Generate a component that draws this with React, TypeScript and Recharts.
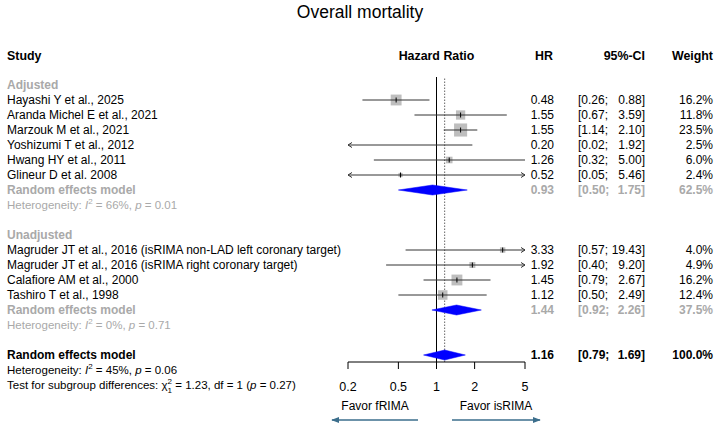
import React from 'react';
import { ScatterChart, Scatter, XAxis, YAxis, ReferenceLine } from 'recharts';

const FONT = '"Liberation Sans", Arial, Helvetica, sans-serif';
const GREY_TEXT = '#a9a9a9';
const CI_COLOR = '#333333';
const SQUARE_COLOR = '#bebebe';
const DIAMOND_COLOR = '#0000ff';
const FAVOR_COLOR = '#3b6e8c';

// ---- Adjusted studies ----
const adjustedStudies = [
  'Hayashi Y et al., 2025',
  'Aranda Michel E et al., 2021',
  'Marzouk M et al., 2021',
  'Yoshizumi T et al., 2012',
  'Hwang HY et al., 2011',
  'Glineur D et al. 2008',
];
const adjustedHR = [0.48, 1.55, 1.55, 0.2, 1.26, 0.52];
const adjustedLower = [0.26, 0.67, 1.14, 0.02, 0.32, 0.05];
const adjustedUpper = [0.88, 3.59, 2.1, 1.92, 5.0, 5.46];
const adjustedWeight = [16.2, 11.8, 23.5, 2.5, 6.0, 2.4];

// ---- Unadjusted studies ----
const unadjustedStudies = [
  'Magruder JT et al., 2016 (isRIMA non-LAD left coronary target)',
  'Magruder JT et al., 2016 (isRIMA right coronary target)',
  'Calafiore AM et al., 2000',
  'Tashiro T et al., 1998',
];
const unadjustedHR = [3.33, 1.92, 1.45, 1.12];
const unadjustedLower = [0.57, 0.4, 0.79, 0.5];
const unadjustedUpper = [19.43, 9.2, 2.67, 2.49];
const unadjustedWeight = [4.0, 4.9, 16.2, 12.4];

// ---- Pooled random effects: adjusted, unadjusted, overall ----
const pooledHR = [0.93, 1.44, 1.16];
const pooledLower = [0.5, 0.92, 0.79];
const pooledUpper = [1.75, 2.26, 1.69];
const pooledWeight = [62.5, 37.5, 100.0];
const pooledI2 = [66, 0, 45];
const pooledP = ['0.01', '0.71', '0.06'];

// Test for subgroup differences
const subgroupChi2 = '1.23';
const subgroupDf = 1;
const subgroupP = '0.27';

// ---- Axis ----
const axisTicks = [0.2, 0.5, 1, 2, 5];
const AXIS_MIN = 0.2;
const AXIS_MAX = 5;

// Row layout (row index runs top to bottom)
const PLOT_TOP = 77;
const PLOT_BOTTOM = 362;
const PLOT_LEFT = 348;
const PLOT_RIGHT = 525;
const ROW_MIN = -8 / 15;
const ROW_MAX = 277 / 15;
const rowY = (r: number) =>
  PLOT_TOP + ((r - ROW_MIN) / (ROW_MAX - ROW_MIN)) * (PLOT_BOTTOM - PLOT_TOP);

const ROW_ADJ_HEAD = 0;
const ROW_ADJ_FIRST = 1;
const ROW_ADJ_POOLED = 7;
const ROW_UNADJ_HEAD = 10;
const ROW_UNADJ_FIRST = 11;
const ROW_UNADJ_POOLED = 15;
const ROW_OVERALL = 18;
const pooledRows = [ROW_ADJ_POOLED, ROW_UNADJ_POOLED, ROW_OVERALL];

type Study = { label: string; hr: number; lo: number; hi: number; w: number; row: number };

const studies: Study[] = [
  ...adjustedStudies.map((label, i) => ({
    label,
    hr: adjustedHR[i],
    lo: adjustedLower[i],
    hi: adjustedUpper[i],
    w: adjustedWeight[i],
    row: ROW_ADJ_FIRST + i,
  })),
  ...unadjustedStudies.map((label, i) => ({
    label,
    hr: unadjustedHR[i],
    lo: unadjustedLower[i],
    hi: unadjustedUpper[i],
    w: unadjustedWeight[i],
    row: ROW_UNADJ_FIRST + i,
  })),
];

// Square + point estimate data (estimates sitting on the axis limits are not boxed)
const pointData = studies
  .filter((s) => s.hr > AXIS_MIN && s.hr < AXIS_MAX)
  .map((s) => ({ x: s.hr, y: s.row, w: s.w }));

// Confidence interval end points (pairs), clipped to the axis range with arrow flags
const ciData = studies.flatMap((s) => [
  { x: Math.max(s.lo, AXIS_MIN), y: s.row, arrow: s.lo < AXIS_MIN ? 'left' : '' },
  { x: Math.min(s.hi, AXIS_MAX), y: s.row, arrow: s.hi > AXIS_MAX ? 'right' : '' },
]);

// Diamond vertices (groups of four) for the pooled estimates
const DIAMOND_HALF = 1 / 3;
const diamondData = pooledHR.flatMap((hr, i) => [
  { x: pooledLower[i], y: pooledRows[i] },
  { x: hr, y: pooledRows[i] - DIAMOND_HALF },
  { x: pooledUpper[i], y: pooledRows[i] },
  { x: hr, y: pooledRows[i] + DIAMOND_HALF },
]);

const fmt2 = (v: number) => v.toFixed(2);
const fmtW = (v: number) => `${v.toFixed(1)}%`;

const WeightSquare = (props: any) => {
  const { cx, cy, payload } = props;
  const s = 2.7 * Math.sqrt(payload.w);
  return <rect x={cx - s / 2} y={cy - s / 2} width={s} height={s} fill={SQUARE_COLOR} />;
};

const PointTick = (props: any) => {
  const { cx, cy } = props;
  return <line x1={cx} x2={cx} y1={cy - 2.5} y2={cy + 2.5} stroke="#000" strokeWidth={1} />;
};

const CiEnd = (props: any) => {
  const { cx, cy, payload } = props;
  if (!payload.arrow) return <g />;
  const d = payload.arrow === 'left' ? 1 : -1;
  return (
    <path
      d={`M${cx + 4 * d},${cy - 2.5} L${cx},${cy} L${cx + 4 * d},${cy + 2.5}`}
      fill="none"
      stroke={CI_COLOR}
      strokeWidth={1}
    />
  );
};

const Empty = () => <g />;

const ciSegments = (props: any) => {
  const pts = props.points || [];
  const segs: React.ReactElement[] = [];
  for (let k = 0; k + 1 < pts.length; k += 2) {
    segs.push(
      <line
        key={k}
        x1={pts[k].x}
        y1={pts[k].y}
        x2={pts[k + 1].x}
        y2={pts[k + 1].y}
        stroke={CI_COLOR}
        strokeWidth={1}
      />
    );
  }
  return <g>{segs}</g>;
};

const diamonds = (props: any) => {
  const pts = props.points || [];
  const polys: React.ReactElement[] = [];
  for (let k = 0; k + 3 < pts.length; k += 4) {
    const d = [0, 1, 2, 3].map((j) => `${pts[k + j].x},${pts[k + j].y}`).join(' ');
    polys.push(<polygon key={k} points={d} fill={DIAMOND_COLOR} stroke={DIAMOND_COLOR} strokeWidth={0.5} />);
  }
  return <g>{polys}</g>;
};

const TEXT_SIZE = 12;
const HEAD_SIZE = 12.4;
const SMALL_SIZE = 11.5;
const baseline = (r: number, size: number) => rowY(r) + size * 0.358;

const COL_LABEL = 7;
const COL_HR = 554;
const COL_CI_LEFT = 578;
const COL_CI_RIGHT = 645;
const COL_WEIGHT = 713;

const ValueCells = ({ row, hr, lo, hi, w, color, bold }: any) => {
  const y = baseline(row, TEXT_SIZE);
  const common = { fontSize: TEXT_SIZE, fill: color, fontWeight: bold ? 'bold' : 'normal', y };
  return (
    <g>
      <text {...common} x={COL_HR} textAnchor="end">{fmt2(hr)}</text>
      <text {...common} x={COL_CI_LEFT}>{`[${fmt2(lo)};`}</text>
      <text {...common} x={COL_CI_RIGHT} textAnchor="end">{`${fmt2(hi)}]`}</text>
      <text {...common} x={COL_WEIGHT} textAnchor="end">{fmtW(w)}</text>
    </g>
  );
};

const Heterogeneity = ({ row, i2, p, color }: any) => (
  <text x={COL_LABEL} y={baseline(row, SMALL_SIZE)} fontSize={SMALL_SIZE} fill={color}>
    {'Heterogeneity: '}
    <tspan fontStyle="italic">I</tspan>
    <tspan dy={-5} fontSize={8}>2</tspan>
    <tspan dy={5}>{` = ${i2}%, `}</tspan>
    <tspan fontStyle="italic">p</tspan>
    {` = ${p}`}
  </text>
);

const Table = () => (
  <svg
    width={720}
    height={424}
    style={{ position: 'absolute', left: 0, top: 0, pointerEvents: 'none', fontFamily: FONT }}
  >
    <text x={360} y={18.3} fontSize={17.5} textAnchor="middle" fill="#000">Overall mortality</text>

    {/* column headers */}
    <g fontWeight="bold" fontSize={HEAD_SIZE} fill="#000">
      <text x={COL_LABEL} y={56 + HEAD_SIZE * 0.358}>Study</text>
      <text x={(PLOT_LEFT + PLOT_RIGHT) / 2} y={56 + HEAD_SIZE * 0.358} textAnchor="middle">Hazard Ratio</text>
      <text x={COL_HR - 1} y={56 + HEAD_SIZE * 0.358} textAnchor="end">HR</text>
      <text x={COL_CI_RIGHT} y={56 + HEAD_SIZE * 0.358} textAnchor="end">95%-CI</text>
      <text x={COL_WEIGHT} y={56 + HEAD_SIZE * 0.358} textAnchor="end">Weight</text>
    </g>

    {/* subgroup headers */}
    <text x={COL_LABEL} y={baseline(ROW_ADJ_HEAD, TEXT_SIZE)} fontSize={TEXT_SIZE} fontWeight="bold" fill={GREY_TEXT}>Adjusted</text>
    <text x={COL_LABEL} y={baseline(ROW_UNADJ_HEAD, TEXT_SIZE)} fontSize={TEXT_SIZE} fontWeight="bold" fill={GREY_TEXT}>Unadjusted</text>

    {/* individual studies */}
    {studies.map((s) => (
      <g key={s.label}>
        <text x={COL_LABEL} y={baseline(s.row, TEXT_SIZE)} fontSize={TEXT_SIZE} fill="#000">{s.label}</text>
        <ValueCells row={s.row} hr={s.hr} lo={s.lo} hi={s.hi} w={s.w} color="#000" bold={false} />
      </g>
    ))}

    {/* pooled estimates */}
    {pooledHR.map((hr, i) => {
      const color = i < 2 ? GREY_TEXT : '#000';
      return (
        <g key={`pooled-${i}`}>
          <text x={COL_LABEL} y={baseline(pooledRows[i], TEXT_SIZE)} fontSize={TEXT_SIZE} fontWeight="bold" fill={color}>
            Random effects model
          </text>
          <ValueCells row={pooledRows[i]} hr={hr} lo={pooledLower[i]} hi={pooledUpper[i]} w={pooledWeight[i]} color={color} bold />
          <Heterogeneity row={pooledRows[i] + 1} i2={pooledI2[i]} p={pooledP[i]} color={color} />
        </g>
      );
    })}

    {/* subgroup difference test */}
    <text x={COL_LABEL} y={baseline(ROW_OVERALL + 2, SMALL_SIZE)} fontSize={SMALL_SIZE} fill="#000">
      {'Test for subgroup differences: '}
      <tspan>χ</tspan>
      <tspan dy={-5} fontSize={8}>2</tspan>
      <tspan dx={-4.4} dy={9} fontSize={8}>{String(subgroupDf)}</tspan>
      <tspan dy={-4}>{` = ${subgroupChi2}, df = ${subgroupDf} (`}</tspan>
      <tspan fontStyle="italic">p</tspan>
      {` = ${subgroupP})`}
    </text>

    {/* favour labels and arrows */}
    <defs>
      <marker id="favorHead" viewBox="0 0 10 10" refX="9" refY="5" markerWidth="5" markerHeight="5" orient="auto-start-reverse">
        <path d="M0,1 L10,5 L0,9 z" fill={FAVOR_COLOR} />
      </marker>
    </defs>
    <text x={375} y={405.5 + TEXT_SIZE * 0.358} fontSize={TEXT_SIZE} textAnchor="middle" fill="#000">Favor fRIMA</text>
    <text x={496} y={405.5 + TEXT_SIZE * 0.358} fontSize={TEXT_SIZE} textAnchor="middle" fill="#000">Favor isRIMA</text>
    <line x1={418} y1={420} x2={332} y2={420} stroke={FAVOR_COLOR} strokeWidth={1.6} markerEnd="url(#favorHead)" />
    <line x1={452} y1={420} x2={540} y2={420} stroke={FAVOR_COLOR} strokeWidth={1.6} markerEnd="url(#favorHead)" />
  </svg>
);

export default function App() {
  return (
    <div style={{ position: 'absolute', left: 0, top: 0, width: 720, height: 424, background: '#fff' }}>
      <ScatterChart
        width={720}
        height={424}
        margin={{ top: PLOT_TOP, right: 720 - PLOT_RIGHT, bottom: 424 - PLOT_BOTTOM - 40, left: PLOT_LEFT }}
      >
        <XAxis
          type="number"
          dataKey="x"
          scale="log"
          domain={[AXIS_MIN, AXIS_MAX]}
          ticks={axisTicks}
          interval={0}
          tickFormatter={(v: number) => String(v)}
          height={40}
          tickSize={7}
          tickMargin={13}
          axisLine={{ stroke: '#000' }}
          tickLine={{ stroke: '#000' }}
          tick={{ fill: '#000', fontSize: 12.5, fontFamily: FONT }}
        />
        <YAxis type="number" dataKey="y" domain={[ROW_MIN, ROW_MAX]} reversed hide width={0} />
        <ReferenceLine x={1} stroke="#000" strokeWidth={1} />
        <ReferenceLine x={pooledHR[2]} stroke="#666" strokeWidth={1} strokeDasharray="1.5 1.5" />
        <Scatter data={pointData} shape={WeightSquare} fill={SQUARE_COLOR} isAnimationActive={false} />
        <Scatter data={ciData} shape={CiEnd} line={ciSegments} fill={CI_COLOR} isAnimationActive={false} />
        <Scatter data={pointData} shape={PointTick} fill="#000" isAnimationActive={false} />
        <Scatter data={diamondData} shape={Empty} line={diamonds} fill={DIAMOND_COLOR} isAnimationActive={false} />
      </ScatterChart>
      <Table />
    </div>
  );
}
